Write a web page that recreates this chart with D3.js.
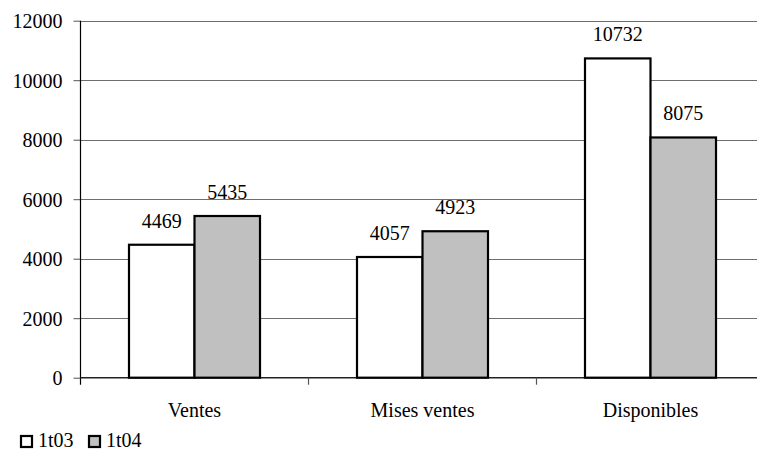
<!DOCTYPE html>
<html>
<head>
<meta charset="utf-8">
<script src="https://cdn.jsdelivr.net/npm/d3@7"></script>
<style>
  html, body { margin: 0; padding: 0; background: #fff; overflow: hidden; }
  svg text { font-family: "Liberation Serif", "Times New Roman", serif !important; fill: #000; }
</style>
</head>
<body>
<svg id="chart" width="757" height="451"></svg>
<script>
// Chart data
const categories = ["Ventes", "Mises ventes", "Disponibles"];
const seriesNames = ["1t03", "1t04"];
const values1t03 = [4469, 4057, 10732];
const values1t04 = [5435, 4923, 8075];
const yTicks = [0, 2000, 4000, 6000, 8000, 10000, 12000];
const seriesColors = ["#ffffff", "#c0c0c0"];

const seriesValues = [values1t03, values1t04];
const rows = categories.map((c, i) => ({
  category: c,
  values: seriesNames.map((s, j) => ({ series: s, value: seriesValues[j][i], color: seriesColors[j] }))
}));

const svg = d3.select("#chart");
const plot = { left: 80.5, right: 764.5, top: 20.7, bottom: 377.7 };

const y = d3.scaleLinear().domain([0, 12000]).range([plot.bottom, plot.top]);
const x0 = d3.scaleBand().domain(categories).range([plot.left, plot.right])
  .paddingInner(0.4254).paddingOuter(0.2127);
const x1 = d3.scaleBand().domain(seriesNames).range([0, x0.bandwidth()]);

// Horizontal gridlines
svg.append("g")
  .selectAll("line")
  .data(yTicks.filter(t => t > 0))
  .join("line")
  .attr("x1", plot.left).attr("x2", 757)
  .attr("y1", d => Math.round(y(d)) + 0.5).attr("y2", d => Math.round(y(d)) + 0.5)
  .attr("stroke", "#6e6e6e").attr("stroke-width", 1);

// Y axis
const yAxis = d3.axisLeft(y).tickValues(yTicks).tickFormat(d3.format("d"))
  .tickSize(7).tickPadding(11);
const gy = svg.append("g").attr("transform", `translate(${plot.left},0)`).call(yAxis);
gy.select(".domain").remove();
gy.selectAll(".tick line").attr("stroke", "#555").attr("stroke-width", 1);
gy.selectAll(".tick text").attr("font-size", 20).attr("dy", "0.34em");
gy.append("line")
  .attr("x1", 0).attr("x2", 0).attr("y1", plot.top).attr("y2", plot.bottom + 7)
  .attr("stroke", "#000").attr("stroke-width", 1.2);

// X axis line and category boundary ticks
svg.append("line")
  .attr("x1", plot.left).attr("x2", 757)
  .attr("y1", plot.bottom).attr("y2", plot.bottom)
  .attr("stroke", "#222").attr("stroke-width", 1.5);
const step = x0.step();
svg.append("g").selectAll("line")
  .data(categories.slice(1))
  .join("line")
  .attr("x1", d => x0(d) - x0.paddingInner() * step / 2)
  .attr("x2", d => x0(d) - x0.paddingInner() * step / 2)
  .attr("y1", plot.bottom).attr("y2", plot.bottom + 7)
  .attr("stroke", "#555").attr("stroke-width", 1.2);

// Category labels
svg.append("g").selectAll("text")
  .data(categories)
  .join("text")
  .attr("x", d => x0(d) + x0.bandwidth() / 2)
  .attr("y", 417)
  .attr("text-anchor", "middle")
  .attr("font-size", 20)
  .text(d => d);

// Bars
const groups = svg.append("g").selectAll("g")
  .data(rows)
  .join("g")
  .attr("transform", d => `translate(${x0(d.category)},0)`);

groups.selectAll("rect")
  .data(d => d.values)
  .join("rect")
  .attr("x", d => x1(d.series))
  .attr("y", d => y(d.value))
  .attr("width", x1.bandwidth())
  .attr("height", d => plot.bottom - y(d.value))
  .attr("fill", d => d.color)
  .attr("stroke", "#000")
  .attr("stroke-width", 2.2);

// Value labels
groups.selectAll("text")
  .data(d => d.values)
  .join("text")
  .attr("x", d => x1(d.series) + x1.bandwidth() / 2)
  .attr("y", d => y(d.value) - 17)
  .attr("text-anchor", "middle")
  .attr("font-size", 20)
  .text(d => d.value);

// Legend
const legend = svg.append("g").attr("transform", "translate(20,0)");
const legendItems = legend.selectAll("g")
  .data(seriesNames)
  .join("g")
  .attr("transform", (d, i) => `translate(${i * 68},0)`);
legendItems.append("rect")
  .attr("x", 1).attr("y", 436)
  .attr("width", 11).attr("height", 11)
  .attr("fill", (d, i) => seriesColors[i])
  .attr("stroke", "#000").attr("stroke-width", 2.2);
legendItems.append("text")
  .attr("x", 18).attr("y", 447)
  .attr("font-size", 20)
  .text(d => d);
</script>
</body>
</html>
